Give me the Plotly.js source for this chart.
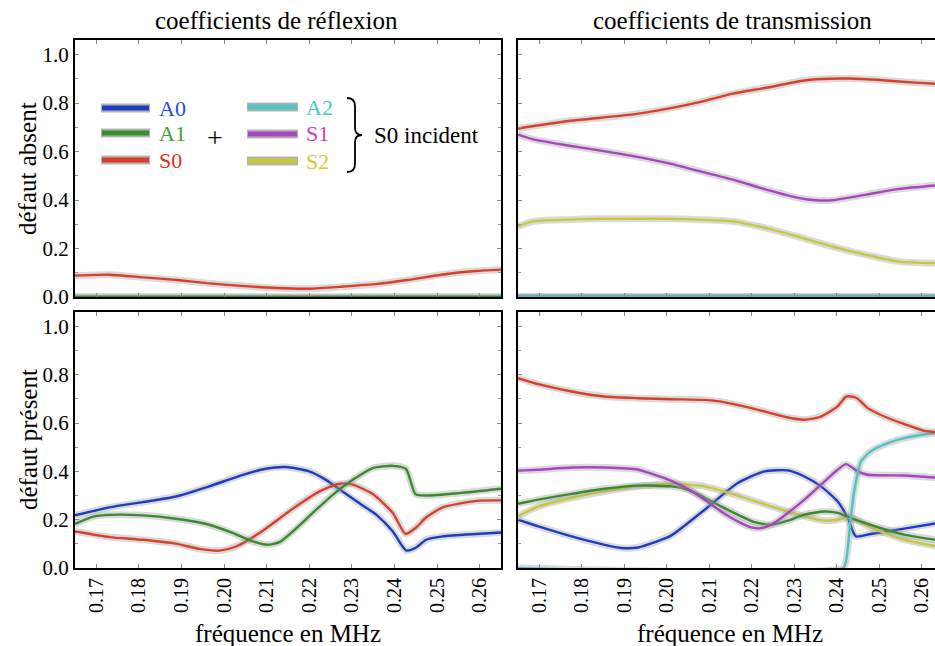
<!DOCTYPE html>
<html>
<head>
<meta charset="utf-8">
<script src="https://cdn.plot.ly/plotly-3.0.1.min.js"></script>
<style>
html,body{margin:0;padding:0;overflow:hidden;background:#fff;}
#chart{width:945px;height:646px;}
</style>
</head>
<body>
<div id="chart"></div>
<script>
// ---------- data (frequency in MHz, coefficient) ----------
const tickVals = [0.17,0.18,0.19,0.20,0.21,0.22,0.23,0.24,0.25,0.26];
const tickText = ["0.17","0.18","0.19","0.20","0.21","0.22","0.23","0.24","0.25","0.26"];
const zeroF = [0.165, 0.265];
const zeroV = [0, 0];

// reflection, no defect (S0)
const rAbsF_S0 = [0.165,0.173,0.181,0.189,0.196,0.204,0.212,0.220,0.228,0.236,0.243,0.251,0.259,0.265];
const rAbsV_S0 = [0.088,0.092,0.081,0.070,0.057,0.046,0.037,0.034,0.043,0.054,0.070,0.092,0.107,0.113];

// transmission, no defect
const tAbsF_S0 = [0.165,0.1764,0.1921,0.2,0.2077,0.2156,0.2234,0.2312,0.2351,0.243,0.2508,0.2586,0.265];
const tAbsV_S0 = [0.695,0.725,0.753,0.776,0.804,0.839,0.863,0.890,0.898,0.901,0.894,0.884,0.878];
const tAbsF_S1 = [0.165,0.1686,0.1764,0.1843,0.1921,0.2,0.2077,0.2156,0.2234,0.2312,0.2351,0.239,0.2469,0.2547,0.265];
const tAbsV_S1 = [0.670,0.650,0.626,0.604,0.581,0.553,0.519,0.484,0.443,0.408,0.399,0.399,0.422,0.446,0.463];
const tAbsF_S2 = [0.165,0.1686,0.1764,0.1843,0.1921,0.2,0.2077,0.2156,0.2234,0.2312,0.239,0.2469,0.2547,0.265];
const tAbsV_S2 = [0.291,0.312,0.319,0.323,0.323,0.323,0.319,0.312,0.284,0.247,0.208,0.174,0.146,0.139];

// reflection, with defect
const rDefF_A0 = [0.165,0.1731,0.1809,0.1887,0.1965,0.2044,0.2098,0.2145,0.22,0.2239,0.2278,0.2317,0.2357,0.2396,0.2427,0.2451,0.2474,0.2513,0.2592,0.265];
const rDefV_A0 = [0.218,0.251,0.273,0.296,0.338,0.386,0.411,0.418,0.400,0.365,0.317,0.269,0.221,0.151,0.073,0.085,0.117,0.131,0.141,0.147];
const rDefF_A1 = [0.165,0.1691,0.1731,0.1809,0.1887,0.1965,0.202,0.2067,0.2102,0.213,0.2161,0.2208,0.2255,0.2302,0.2349,0.2396,0.2427,0.2449,0.2474,0.2552,0.265];
const rDefV_A1 = [0.183,0.212,0.220,0.218,0.204,0.179,0.145,0.110,0.096,0.107,0.151,0.228,0.303,0.365,0.414,0.423,0.410,0.306,0.300,0.310,0.328];
const rDefF_S0 = [0.165,0.1731,0.1809,0.1887,0.1942,0.1989,0.2028,0.2083,0.2161,0.2224,0.2271,0.2302,0.2349,0.2396,0.2426,0.2451,0.2474,0.2513,0.2592,0.265];
const rDefV_S0 = [0.151,0.128,0.117,0.101,0.079,0.072,0.089,0.145,0.245,0.317,0.349,0.345,0.306,0.228,0.141,0.168,0.209,0.251,0.278,0.280];

// transmission, with defect
const tDefF_S0 = [0.165,0.1698,0.1776,0.1854,0.1933,0.2011,0.2089,0.2128,0.2206,0.2285,0.2324,0.2363,0.2402,0.2422,0.2445,0.2473,0.252,0.2559,0.2606,0.265];
const tDefV_S0 = [0.786,0.761,0.731,0.710,0.703,0.699,0.696,0.689,0.659,0.623,0.614,0.627,0.669,0.710,0.706,0.662,0.621,0.596,0.568,0.560];
const tDefF_A2 = [0.165,0.2415,0.2422,0.2433,0.2441,0.2457,0.248,0.252,0.2559,0.2629,0.265];
const tDefV_A2 = [0,0,0.03,0.207,0.317,0.441,0.483,0.517,0.538,0.559,0.562];
const tDefF_S1 = [0.165,0.1698,0.1776,0.1854,0.1933,0.1972,0.2011,0.205,0.2089,0.2128,0.2167,0.2199,0.2222,0.2246,0.2285,0.2324,0.2363,0.2402,0.2422,0.2449,0.2473,0.2559,0.265];
const tDefV_S1 = [0.403,0.407,0.416,0.416,0.407,0.386,0.361,0.327,0.283,0.234,0.193,0.168,0.165,0.179,0.228,0.283,0.345,0.407,0.430,0.400,0.386,0.383,0.372];
const tDefF_A1 = [0.165,0.1698,0.1776,0.1854,0.1933,0.2011,0.205,0.2089,0.2128,0.2167,0.2206,0.2246,0.2285,0.2324,0.2371,0.2402,0.2433,0.248,0.2559,0.265];
const tDefV_A1 = [0.266,0.283,0.307,0.328,0.341,0.338,0.324,0.292,0.255,0.221,0.190,0.179,0.196,0.221,0.234,0.228,0.207,0.179,0.138,0.112];
const tDefF_S2 = [0.165,0.1698,0.1776,0.1854,0.1933,0.2011,0.2089,0.2167,0.2246,0.2324,0.2371,0.2402,0.2433,0.248,0.2559,0.265];
const tDefV_S2 = [0.214,0.255,0.290,0.317,0.338,0.349,0.338,0.300,0.255,0.214,0.196,0.200,0.209,0.168,0.117,0.085];
const tDefF_A0 = [0.165,0.1698,0.1776,0.1854,0.1893,0.1933,0.1972,0.2011,0.2089,0.2167,0.223,0.2285,0.2324,0.2363,0.2402,0.2426,0.2445,0.248,0.2559,0.265];
const tDefV_A0 = [0.200,0.172,0.131,0.096,0.083,0.085,0.107,0.135,0.241,0.352,0.400,0.404,0.379,0.338,0.276,0.207,0.131,0.141,0.163,0.190];

const modeNames = ["A0","A1","S0","A2","S1","S2"];
const lineColors = {A0:"#1f3cc4", A1:"#3a8a30", S0:"#d8402c", A2:"#4cc4c4", S1:"#a846c0", S2:"#c8c83c"};
const textColors = {A0:"#2050dc", A1:"#3aa03a", S0:"#e23018", A2:"#3ccccc", S1:"#d040c8", S2:"#d4cc2c"};

// ---------- geometry helpers ----------
const W = 945, H = 646, ML = 75, MR = 2, MT = 40, MB = 78;
const PW = W - ML - MR, PH = H - MT - MB;
const px = p => (p - ML) / PW;
const py = p => (H - MB - p) / PH;

const FONT = "Liberation Serif, Times New Roman, serif";

function series(f, v, name, xa, ya) {
  const c = lineColors[name];
  return [
    {x: f, y: v, xaxis: xa, yaxis: ya, mode: "lines", hoverinfo: "skip", showlegend: false,
     line: {color: "rgba(150,150,150,0.35)", width: 7, shape: "spline", smoothing: 0.6}},
    {x: f, y: v, xaxis: xa, yaxis: ya, mode: "lines", name: name, showlegend: false,
     line: {color: c, width: 2.4, shape: "spline", smoothing: 0.6}}
  ];
}

const traces = [].concat(
  // top-left: reflection, no defect
  series(zeroF, zeroV, "A0", "x3", "y3"),
  series(zeroF, zeroV, "A1", "x3", "y3"),
  series(rAbsF_S0, rAbsV_S0, "S0", "x3", "y3"),
  // top-right: transmission, no defect
  series(zeroF, zeroV, "A0", "x4", "y4"),
  series(zeroF, zeroV, "A1", "x4", "y4"),
  series(zeroF, zeroV, "A2", "x4", "y4"),
  series(tAbsF_S2, tAbsV_S2, "S2", "x4", "y4"),
  series(tAbsF_S1, tAbsV_S1, "S1", "x4", "y4"),
  series(tAbsF_S0, tAbsV_S0, "S0", "x4", "y4"),
  // bottom-left: reflection with defect
  series(rDefF_A0, rDefV_A0, "A0", "x", "y"),
  series(rDefF_S0, rDefV_S0, "S0", "x", "y"),
  series(rDefF_A1, rDefV_A1, "A1", "x", "y"),
  // bottom-right: transmission with defect
  series(tDefF_A0, tDefV_A0, "A0", "x2", "y2"),
  series(tDefF_S2, tDefV_S2, "S2", "x2", "y2"),
  series(tDefF_A1, tDefV_A1, "A1", "x2", "y2"),
  series(tDefF_S1, tDefV_S1, "S1", "x2", "y2"),
  series(tDefF_A2, tDefV_A2, "A2", "x2", "y2"),
  series(tDefF_S0, tDefV_S0, "S0", "x2", "y2")
);

const domL = [0, px(501)], domR = [px(518), 1];
const domT = [py(297), 1], domB = [0, py(312)];

function xax(dom, anchor, labels) {
  return {domain: dom, anchor: anchor, range: [0.165, 0.265], showgrid: false, zeroline: false,
    showline: true, linecolor: "#000", linewidth: 2, mirror: "allticks",
    ticks: "inside", ticklen: 4, tickwidth: 1, tickcolor: "#888",
    tickvals: tickVals, ticktext: tickText, showticklabels: labels, tickangle: -90,
    tickfont: {family: FONT, size: 20, color: "#000"}};
}
function yax(dom, anchor, labels) {
  return {domain: dom, anchor: anchor, range: [0, 1.06], showgrid: false, zeroline: false,
    showline: true, linecolor: "#000", linewidth: 2, mirror: "allticks",
    ticks: "inside", ticklen: 4, tickwidth: 1, tickcolor: "#888",
    tickvals: [0,0.2,0.4,0.6,0.8,1.0], ticktext: ["0.0","0.2","0.4","0.6","0.8","1.0"],
    minor: {tickvals: [0.1,0.3,0.5,0.7,0.9], ticks: "inside", ticklen: 3, tickcolor: "#999"},
    showticklabels: labels, tickfont: {family: FONT, size: 21, color: "#000"}};
}

// legend drawn in top-left panel
const legRows = [
  {name: "A0", x0: 101, x1: 150, y: 108, tx: 157},
  {name: "A1", x0: 101, x1: 150, y: 133, tx: 157},
  {name: "S0", x0: 101, x1: 150, y: 160, tx: 157},
  {name: "A2", x0: 247, x1: 298, y: 107, tx: 304},
  {name: "S1", x0: 247, x1: 298, y: 134, tx: 304},
  {name: "S2", x0: 247, x1: 298, y: 161, tx: 304}
];
const shapes = [];
const annotations = [];
legRows.forEach(r => {
  shapes.push({type: "line", xref: "paper", yref: "paper", x0: px(r.x0), x1: px(r.x1), y0: py(r.y), y1: py(r.y),
    line: {color: "#b4b4b4", width: 9}});
  shapes.push({type: "line", xref: "paper", yref: "paper", x0: px(r.x0 + 1), x1: px(r.x1 - 1), y0: py(r.y), y1: py(r.y),
    line: {color: lineColors[r.name], width: 5}});
  annotations.push({xref: "paper", yref: "paper", x: px(r.tx), y: py(r.y), xanchor: "left", yanchor: "middle",
    text: r.name, showarrow: false, font: {family: FONT, size: 22, color: textColors[r.name]}});
});
// brace
const bx = [347, 354, 355, 362, 355, 354, 347];
const byv = [98, 104, 129, 135, 141, 166, 172];
const brace = `M ${px(347)},${py(98)} Q ${px(355)},${py(98)} ${px(355)},${py(106)} L ${px(355)},${py(128)} Q ${px(355)},${py(135)} ${px(362)},${py(135)} Q ${px(355)},${py(135)} ${px(355)},${py(142)} L ${px(355)},${py(164)} Q ${px(355)},${py(172)} ${px(347)},${py(172)}`;
shapes.push({type: "path", xref: "paper", yref: "paper", path: brace, line: {color: "#000", width: 1.8}});
annotations.push({xref: "paper", yref: "paper", x: px(215), y: py(138), xanchor: "center", yanchor: "middle",
  text: "+", showarrow: false, font: {family: FONT, size: 28, color: "#000"}});
annotations.push({xref: "paper", yref: "paper", x: px(372), y: py(136), xanchor: "left", yanchor: "middle",
  text: "S0 incident", showarrow: false, font: {family: FONT, size: 23, color: "#000"}});

// titles
const titleFont = {family: FONT, size: 25, color: "#000"};
annotations.push({xref: "paper", yref: "paper", x: px(276), y: py(20), xanchor: "center", yanchor: "middle",
  text: "coefficients de réflexion", showarrow: false, font: titleFont});
annotations.push({xref: "paper", yref: "paper", x: px(732), y: py(20), xanchor: "center", yanchor: "middle",
  text: "coefficients de transmission", showarrow: false, font: titleFont});
annotations.push({xref: "paper", yref: "paper", x: px(288), y: py(633), xanchor: "center", yanchor: "middle",
  text: "fréquence en MHz", showarrow: false, font: titleFont});
annotations.push({xref: "paper", yref: "paper", x: px(730), y: py(633), xanchor: "center", yanchor: "middle",
  text: "fréquence en MHz", showarrow: false, font: titleFont});
annotations.push({xref: "paper", yref: "paper", x: px(28), y: py(169), xanchor: "center", yanchor: "middle",
  text: "défaut absent", textangle: -90, showarrow: false, font: titleFont});
annotations.push({xref: "paper", yref: "paper", x: px(28), y: py(440), xanchor: "center", yanchor: "middle",
  text: "défaut présent", textangle: -90, showarrow: false, font: titleFont});

const layout = {
  width: W, height: H,
  margin: {l: ML, r: MR, t: MT, b: MB, pad: 0},
  paper_bgcolor: "#fff", plot_bgcolor: "#fff",
  showlegend: false,
  font: {family: FONT, color: "#000"},
  xaxis: xax(domL, "y", true),
  yaxis: yax(domB, "x", true),
  xaxis2: xax(domR, "y2", true),
  yaxis2: yax(domB, "x2", false),
  xaxis3: xax(domL, "y3", false),
  yaxis3: yax(domT, "x3", true),
  xaxis4: xax(domR, "y4", false),
  yaxis4: yax(domT, "x4", false),
  shapes: shapes,
  annotations: annotations
};

Plotly.newPlot("chart", traces, layout, {displayModeBar: false, staticPlot: true});
</script>
</body>
</html>
